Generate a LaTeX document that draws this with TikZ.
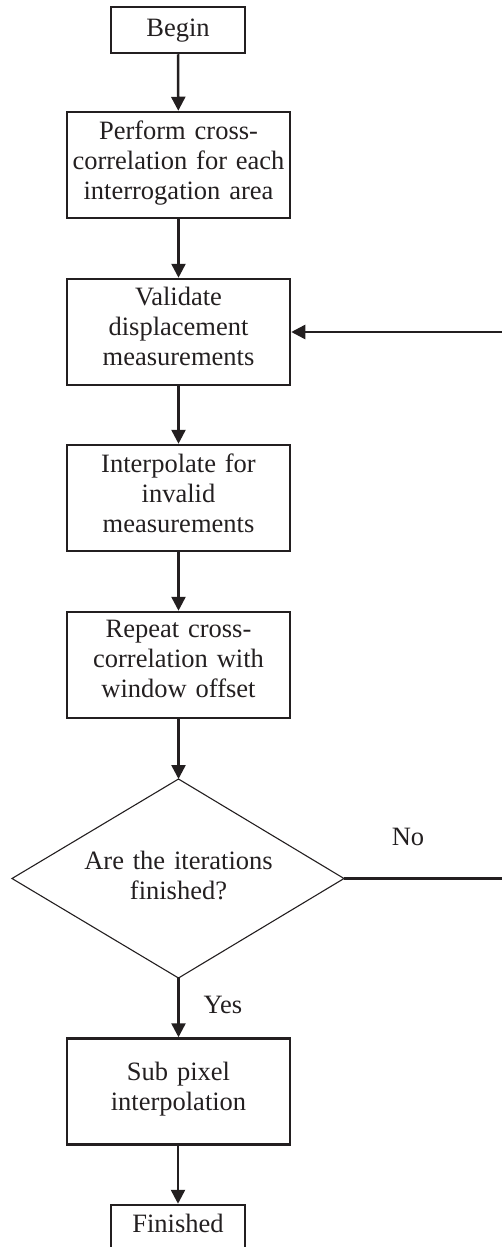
\documentclass[tikz,border=0pt]{standalone}
\usepackage{fontspec}
\setmainfont{Liberation Serif}
\usetikzlibrary{arrows.meta}
\definecolor{ink}{RGB}{35,31,32}
\begin{document}
\begin{tikzpicture}[x=1pt,y=-1pt,
  every node/.style={font=\fontsize{26.5}{30}\selectfont, text=ink},
  stepbox/.style={draw=ink, line width=2.5pt, inner sep=0pt,
    minimum width=223pt, minimum height=106pt},
  boxtext/.style={align=center, inner sep=0pt, text width=215pt},
  termbox/.style={draw=ink, line width=2.5pt, inner sep=0pt,
    minimum width=134pt, minimum height=46pt},
  conn/.style={draw=ink, line width=2.5pt},
  arr/.style={conn, -{Triangle[length=14pt,width=14pt]}},
  lbl/.style={inner sep=0pt}]
\useasboundingbox (0,0) rectangle (502,1247);
\clip (0,0) rectangle (502,1247);

\node[termbox] (begin) at (178,30) {};
\node[boxtext] (begint) at (178,31) {Begin};

\node[stepbox] (perf) at (178.5,165) {};
\node[boxtext] (perft) at (178.5,163) {Perform cross-\\correlation for each\\interrogation area};

\node[stepbox] (val) at (178.5,332) {};
\node[boxtext] (valt) at (178.5,326) {Validate\\displacement\\measurements};

\node[stepbox] (interp) at (178.5,498) {};
\node[boxtext] (interpt) at (178.5,493) {Interpolate for\\invalid\\measurements};

\node[stepbox] (rep) at (178.5,665) {};
\node[boxtext] (rept) at (178.5,659) {Repeat cross-\\correlation with\\window offset};

\coordinate (dtop) at (178.5,779);
\coordinate (dright) at (344,878.5);
\coordinate (dbot) at (178.5,978);
\coordinate (dleft) at (12,878.5);
\draw[draw=ink, line width=1.1pt] (dtop) -- (dright) -- (dbot) -- (dleft) -- cycle;
\node[boxtext] (dec) at (178.5,875) {Are the iterations\\finished?};

\node[stepbox] (sub) at (178.5,1091.5) {};
\node[boxtext] (subt) at (178.5,1089) {Sub pixel\\interpolation};

\node[termbox] (fin) at (178,1228) {};
\node[boxtext] (fint) at (178,1223) {Finished};

\coordinate (rb) at (505,878.5);
\coordinate (rt) at (505,332);

\draw[arr] (begin) -- (perf);
\draw[arr] (perf) -- (val);
\draw[arr] (val) -- (interp);
\draw[arr] (interp) -- (rep);
\draw[arr] (rep) -- (dtop);
\draw[arr] (dbot) -- (sub);
\draw[arr] (sub.south -| fin.north) -- (fin.north);
\draw[conn] (dright) -- (rb) -- (rt);
\draw[arr] (rt) -- (val.east);

\node[lbl] (no) at (408,837) {No};
\node[lbl] (yes) at (223,1005) {Yes};
\end{tikzpicture}
\end{document}
